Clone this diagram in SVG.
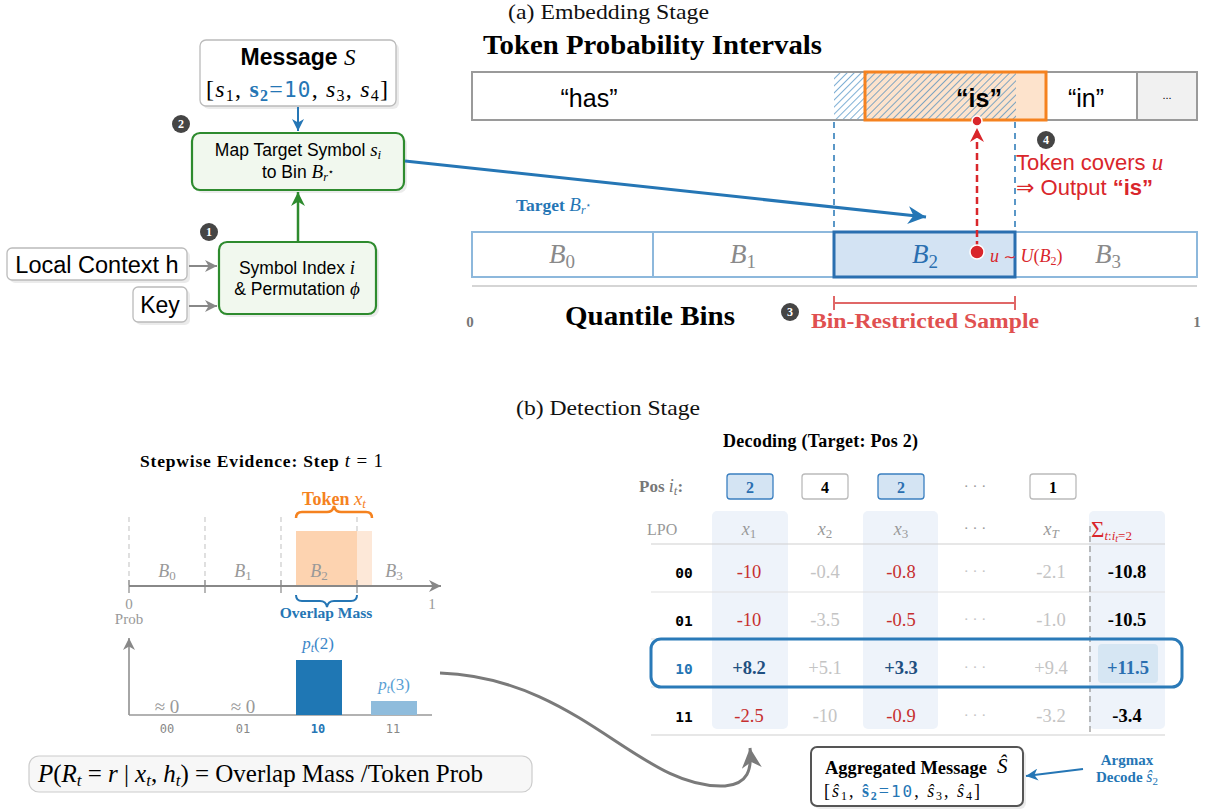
<svg xmlns="http://www.w3.org/2000/svg" width="1210" height="809" viewBox="0 0 1210 809">
<style>
.serif{font-family:"Liberation Serif","DejaVu Serif",serif}
.sans{font-family:"Liberation Sans","DejaVu Sans",sans-serif}
.mono{font-family:"DejaVu Sans Mono","Liberation Mono",monospace}
.star{font-family:"DejaVu Sans",sans-serif;font-style:normal;font-weight:normal}
.it{font-style:italic}
.b{font-weight:bold}
.badge{fill:#454545}
.badgetx{font-family:"Liberation Serif",serif;font-weight:bold;font-size:12px;fill:#fff;text-anchor:middle}
.shadow{fill:#000;opacity:0.08}
.gbox{fill:#f1f8ee;stroke:#2e8b2e;stroke-width:2.2}
.wbox{fill:#fff;stroke:#bbb;stroke-width:1.3}
.red{fill:#c62f2f}
.lg{fill:#c4c4c4}
.dk{fill:#1f4f80}
</style>
<defs>
<pattern id="hatch" width="5" height="5" patternUnits="userSpaceOnUse" patternTransform="rotate(45)">
<line x1="0" y1="0" x2="0" y2="5" stroke="#2a7ab8" stroke-width="1.2"/>
</pattern>
<marker id="ab" markerWidth="12" markerHeight="12" refX="10" refY="5" orient="auto" markerUnits="userSpaceOnUse" viewBox="0 0 10 10"><path d="M0,0 L10,5 L0,10 L3,5 z" fill="#2576b5"/></marker>
<marker id="abL" markerWidth="18" markerHeight="18" refX="10" refY="5" orient="auto" markerUnits="userSpaceOnUse" viewBox="0 0 10 10"><path d="M0,0 L10,5 L0,10 L3,5 z" fill="#2576b5"/></marker>
<marker id="ag" markerWidth="14" markerHeight="14" refX="10" refY="5" orient="auto" markerUnits="userSpaceOnUse" viewBox="0 0 10 10"><path d="M0,0 L10,5 L0,10 L3,5 z" fill="#2e8b2e"/></marker>
<marker id="agr" markerWidth="12" markerHeight="12" refX="10" refY="5" orient="auto" markerUnits="userSpaceOnUse" viewBox="0 0 10 10"><path d="M0,0 L10,5 L0,10 L3,5 z" fill="#888"/></marker>
<marker id="agr2" markerWidth="20" markerHeight="20" refX="10" refY="5" orient="auto" markerUnits="userSpaceOnUse" viewBox="0 0 10 10"><path d="M0,0 L10,5 L0,10 L3,5 z" fill="#7a7a7a"/></marker>
<marker id="ar" markerWidth="14" markerHeight="14" refX="10" refY="5" orient="auto" markerUnits="userSpaceOnUse" viewBox="0 0 10 10"><path d="M0,0 L10,5 L0,10 L3,5 z" fill="#d9262b"/></marker>
</defs>
<rect width="1210" height="809" fill="#fff"/>

<!-- (a) Embedding stage -->
<text class="serif" x="508" y="19" font-size="21" textLength="201" lengthAdjust="spacingAndGlyphs" fill="#111">(a) Embedding Stage</text>

<g id="message">
<rect class="shadow" x="203" y="43" width="196" height="66" rx="6"/>
<rect class="wbox" x="200" y="40" width="196" height="66" rx="6"/>
<text x="298" y="65" text-anchor="middle" font-size="23"><tspan class="sans b">Message </tspan><tspan class="serif it">S</tspan></text>
<text class="serif" x="206" y="97" font-size="24" textLength="182" lengthAdjust="spacing">[<tspan class="it">s</tspan><tspan font-size="16" dy="4">1</tspan><tspan dy="-4">, </tspan><tspan class="b" fill="#2576b5">s</tspan><tspan class="b" fill="#2576b5" font-size="16" dy="4">2</tspan><tspan fill="#2576b5" dy="-4">=</tspan><tspan class="mono" fill="#2576b5" font-size="21">10</tspan>, <tspan class="it">s</tspan><tspan font-size="16" dy="4">3</tspan><tspan dy="-4">, </tspan><tspan class="it">s</tspan><tspan font-size="16" dy="4">4</tspan><tspan dy="-4">]</tspan></text>
</g>

<g id="badge2"><circle class="badge" cx="181" cy="124" r="9"/><text class="badgetx" x="181" y="128">2</text></g>

<g id="mapbox">
<rect class="shadow" x="195" y="136" width="212" height="57" rx="8"/>
<rect class="gbox" x="192" y="133" width="212" height="57" rx="8"/>
<text class="sans" x="298" y="156" text-anchor="middle" font-size="17.5">Map Target Symbol <tspan class="serif it" font-size="19">s</tspan><tspan class="serif it" font-size="13" dy="3">i</tspan></text>
<text class="sans" x="298" y="178" text-anchor="middle" font-size="17.5">to Bin <tspan class="serif it" font-size="19">B</tspan><tspan class="serif it" font-size="12" dy="3">r</tspan><tspan class="star" font-size="10" dy="-6">⋆</tspan></text>
</g>

<g id="badge1"><circle class="badge" cx="209" cy="232" r="9"/><text class="badgetx" x="209" y="236">1</text></g>

<g id="symbolbox">
<rect class="shadow" x="222" y="245" width="157" height="72" rx="8"/>
<rect class="gbox" x="219" y="242" width="157" height="72" rx="8"/>
<text class="sans" x="297" y="274" text-anchor="middle" font-size="17.5">Symbol Index <tspan class="serif it" font-size="19">i</tspan></text>
<text class="sans" x="297" y="295" text-anchor="middle" font-size="17.5">&amp; Permutation <tspan class="serif it" font-size="19">ϕ</tspan></text>
</g>

<g id="context">
<rect class="shadow" x="10" y="251" width="180" height="32" rx="5"/>
<rect class="wbox" x="7" y="248" width="180" height="32" rx="5"/>
<text class="sans" x="97" y="273" text-anchor="middle" font-size="23.5">Local Context h</text>
</g>
<g id="key">
<rect class="shadow" x="136" y="290" width="54" height="35" rx="5"/>
<rect class="wbox" x="133" y="287" width="54" height="35" rx="5"/>
<text class="sans" x="160" y="313" text-anchor="middle" font-size="23">Key</text>
</g>

<g id="tokenbar">
<text class="serif b" x="483" y="54" font-size="27" textLength="339" lengthAdjust="spacingAndGlyphs">Token Probability Intervals</text>
<rect x="472" y="72" width="725" height="48" fill="#fff" stroke="#9a9a9a" stroke-width="2"/>
<rect x="1137" y="72" width="60" height="48" fill="#f1f1f1" stroke="#9a9a9a" stroke-width="2"/>
<rect x="865" y="72" width="181" height="48" fill="#fde3cc"/>
<rect x="834" y="73" width="182" height="46" fill="url(#hatch)"/>
<rect x="865" y="72" width="181" height="48" fill="none" stroke="#f5821f" stroke-width="3"/>
<text class="sans" x="589" y="107" text-anchor="middle" font-size="25">“has”</text>
<text class="sans b" x="979" y="107" text-anchor="middle" font-size="25">“is”</text>
<text class="sans" x="1086" y="107" text-anchor="middle" font-size="25">“in”</text>
<text class="sans" x="1167" y="99" text-anchor="middle" font-size="11">...</text>
</g>

<g id="bins">
<line x1="834" y1="122" x2="834" y2="232" stroke="#2576b5" stroke-width="1.5" stroke-dasharray="6,5"/>
<line x1="1015" y1="122" x2="1015" y2="232" stroke="#2576b5" stroke-width="1.5" stroke-dasharray="6,5"/>
<rect x="472" y="232" width="725" height="45" fill="#fff" stroke="#8db8dc" stroke-width="2"/>
<line x1="653" y1="232" x2="653" y2="277" stroke="#8db8dc" stroke-width="2"/>
<rect x="834" y="232" width="181" height="45" fill="#d3e3f3" stroke="#2a6fb0" stroke-width="3"/>
<text class="serif it" x="562" y="263" text-anchor="middle" font-size="27" fill="#8a8a8a">B<tspan font-style="normal" font-size="19" dy="5">0</tspan></text>
<text class="serif it" x="743" y="263" text-anchor="middle" font-size="27" fill="#8a8a8a">B<tspan font-style="normal" font-size="19" dy="5">1</tspan></text>
<text class="serif it" x="925" y="263" text-anchor="middle" font-size="27" fill="#2a6fb0">B<tspan font-style="normal" font-size="19" dy="5">2</tspan></text>
<text class="serif it" x="1108" y="263" text-anchor="middle" font-size="27" fill="#8a8a8a">B<tspan font-style="normal" font-size="19" dy="5">3</tspan></text>
<line x1="472" y1="286" x2="1197" y2="286" stroke="#d5d5d5" stroke-width="2"/>
<text class="serif b" x="470" y="327" text-anchor="middle" font-size="15" fill="#777">0</text>
<text class="serif b" x="1197" y="327" text-anchor="middle" font-size="15" fill="#777">1</text>
<text class="serif b" x="565" y="325" font-size="27" textLength="170" lengthAdjust="spacingAndGlyphs">Quantile Bins</text>
</g>

<g id="sample">
<line x1="834" y1="303" x2="1015" y2="303" stroke="#e06767" stroke-width="2"/>
<line x1="834" y1="296" x2="834" y2="310" stroke="#e06767" stroke-width="2"/>
<line x1="1015" y1="296" x2="1015" y2="310" stroke="#e06767" stroke-width="2"/>
<text class="serif b" x="811" y="328" font-size="22" textLength="228" lengthAdjust="spacingAndGlyphs" fill="#e05050">Bin-Restricted Sample</text>
<circle class="badge" cx="790" cy="312" r="9"/><text class="badgetx" x="790" y="316">3</text>
</g>

<g id="output">
<circle class="badge" cx="1046" cy="140" r="9"/><text class="badgetx" x="1046" y="144">4</text>
<text class="sans" x="1016" y="170" font-size="22" fill="#d9262b">Token covers <tspan class="serif it" font-size="23">u</tspan></text>
<text class="sans" x="1016" y="195" font-size="22" fill="#d9262b">⇒ Output <tspan class="b">“is”</tspan></text>
<text class="serif b" x="516" y="211" font-size="17.5" fill="#2576b5">Target <tspan class="it" font-weight="normal" font-size="19">B</tspan><tspan class="it" font-weight="normal" font-size="12" dy="3">r</tspan><tspan class="star" font-size="9" dy="-6">⋆</tspan></text>
</g>

<g id="connectors">
<line x1="298" y1="107" x2="298" y2="131" stroke="#2576b5" stroke-width="2" marker-end="url(#ab)"/>
<line x1="298" y1="241" x2="298" y2="192" stroke="#2e8b2e" stroke-width="2.5" marker-end="url(#ag)"/>
<line x1="189" y1="266" x2="217" y2="266" stroke="#888" stroke-width="2" marker-end="url(#agr)"/>
<line x1="189" y1="306" x2="217" y2="306" stroke="#888" stroke-width="2" marker-end="url(#agr)"/>
<line x1="405" y1="161" x2="926" y2="217" stroke="#2576b5" stroke-width="3" marker-end="url(#abL)"/>
<line x1="977" y1="248" x2="977" y2="128" stroke="#d9262b" stroke-width="2.5" stroke-dasharray="7,4" marker-end="url(#ar)"/>
<circle cx="977" cy="121" r="5" fill="#d9262b" stroke="#fff" stroke-width="1.5"/>
<circle cx="977" cy="252" r="7" fill="#d9262b" stroke="#fff" stroke-width="1.5"/>
<path d="M440,673 C580,678 640,790 725,786 C748,784 752,770 750,748" fill="none" stroke="#7a7a7a" stroke-width="3" marker-end="url(#agr2)"/>
<line x1="1083" y1="769" x2="1026" y2="776" stroke="#2576b5" stroke-width="2" marker-end="url(#ab)"/>
</g>
<text class="serif it" x="990" y="262" font-size="18" fill="#d9262b">u <tspan class="star" font-size="15">∼</tspan> U<tspan font-style="normal">(</tspan>B<tspan font-style="normal" font-size="12" dy="3">2</tspan><tspan font-style="normal" dy="-3">)</tspan></text>

<!-- (b) Detection stage -->
<text class="serif" x="516" y="415" font-size="22" textLength="184" lengthAdjust="spacingAndGlyphs" fill="#111">(b) Detection Stage</text>

<g id="stepwise">
<text class="serif b" x="140" y="467" font-size="17.5" textLength="243" lengthAdjust="spacing">Stepwise Evidence: Step <tspan class="it" font-weight="normal" font-size="19">t</tspan><tspan font-weight="normal" font-size="19"> = 1</tspan></text>
<g stroke="#cfcfcf" stroke-width="1.3" stroke-dasharray="5,4">
<line x1="129" y1="517" x2="129" y2="586"/><line x1="205" y1="517" x2="205" y2="586"/><line x1="281" y1="517" x2="281" y2="586"/><line x1="357" y1="517" x2="357" y2="586"/>
</g>
<rect x="296" y="531" width="61" height="55" fill="#fdd3b0"/>
<rect x="357" y="531" width="15" height="55" fill="#fde8d8"/>
<text class="serif it" x="167" y="577" text-anchor="middle" font-size="18" fill="#999">B<tspan font-style="normal" font-size="13" dy="3">0</tspan></text>
<text class="serif it" x="243" y="577" text-anchor="middle" font-size="18" fill="#999">B<tspan font-style="normal" font-size="13" dy="3">1</tspan></text>
<text class="serif it" x="319" y="577" text-anchor="middle" font-size="18" fill="#999">B<tspan font-style="normal" font-size="13" dy="3">2</tspan></text>
<text class="serif it" x="394" y="577" text-anchor="middle" font-size="18" fill="#999">B<tspan font-style="normal" font-size="13" dy="3">3</tspan></text>
<line x1="129" y1="586" x2="441" y2="586" stroke="#888" stroke-width="2" marker-end="url(#agr)"/>
<g stroke="#888" stroke-width="1.2"><line x1="129" y1="580" x2="129" y2="593"/><line x1="205" y1="580" x2="205" y2="593"/><line x1="281" y1="580" x2="281" y2="593"/><line x1="357" y1="580" x2="357" y2="593"/></g>
<path d="M296,518 Q296,512 302,512 L327,512 Q333,512 334,506 Q335,512 341,512 L366,512 Q372,512 372,518" fill="none" stroke="#f5821f" stroke-width="2.5"/>
<text class="serif b" x="334" y="505" text-anchor="middle" font-size="18" fill="#f5821f">Token <tspan class="it" font-weight="normal" font-size="19">x</tspan><tspan class="it" font-weight="normal" font-size="13" dy="3">t</tspan></text>
<path d="M296,595 Q296,601 302,601 L320,601 Q326,601 327,607 Q328,601 334,601 L351,601 Q357,601 357,595" fill="none" stroke="#2576b5" stroke-width="2"/>
<text class="serif b" x="326" y="618" text-anchor="middle" font-size="15.5" fill="#2576b5">Overlap Mass</text>
<text class="serif" x="129" y="609" text-anchor="middle" font-size="15" fill="#999">0</text>
<text class="serif" x="129" y="624" text-anchor="middle" font-size="15" fill="#999">Prob</text>
<text class="serif" x="432" y="609" text-anchor="middle" font-size="15" fill="#999">1</text>
</g>

<g id="barchart">
<line x1="129" y1="715" x2="129" y2="638" stroke="#888" stroke-width="1.5" marker-end="url(#agr)"/>
<line x1="129" y1="715" x2="432" y2="715" stroke="#999" stroke-width="1.5"/>
<rect x="296" y="660" width="46" height="55" fill="#1f77b4"/>
<rect x="371" y="701" width="46" height="14" fill="#8fbcdc"/>
<text class="serif" x="167" y="713" text-anchor="middle" font-size="19" fill="#999">≈ 0</text>
<text class="serif" x="243" y="713" text-anchor="middle" font-size="19" fill="#999">≈ 0</text>
<text class="serif" x="318" y="649" text-anchor="middle" font-size="17" fill="#3a86c8"><tspan class="it">p</tspan><tspan class="it" font-size="12" dy="3">t</tspan><tspan dy="-3">(2)</tspan></text>
<text class="serif" x="394" y="690" text-anchor="middle" font-size="17" fill="#5a9fd4"><tspan class="it">p</tspan><tspan class="it" font-size="12" dy="3">t</tspan><tspan dy="-3">(3)</tspan></text>
<text class="mono" x="167" y="733" text-anchor="middle" font-size="12" fill="#888">00</text>
<text class="mono" x="243" y="733" text-anchor="middle" font-size="12" fill="#888">01</text>
<text class="mono b" x="318" y="733" text-anchor="middle" font-size="12" fill="#2576b5">10</text>
<text class="mono" x="393" y="733" text-anchor="middle" font-size="12" fill="#888">11</text>
</g>

<g id="formula">
<rect x="29" y="756" width="503" height="36" rx="10" fill="#f7f7f7" stroke="#cccccc" stroke-width="1.2"/>
<text class="serif" x="38" y="782" font-size="25" textLength="445" lengthAdjust="spacing"><tspan class="it">P</tspan>(<tspan class="it">R</tspan><tspan class="it" font-size="17" dy="4">t</tspan><tspan dy="-4"> = </tspan><tspan class="it">r</tspan> | <tspan class="it">x</tspan><tspan class="it" font-size="17" dy="4">t</tspan><tspan dy="-4">, </tspan><tspan class="it">h</tspan><tspan class="it" font-size="17" dy="4">t</tspan><tspan dy="-4">) = Overlap Mass /Token Prob</tspan></text>
</g>

<g id="decoding">
<text class="serif b" x="723" y="447" font-size="18" textLength="195" lengthAdjust="spacing">Decoding (Target: Pos 2)</text>
<text class="serif b" x="639" y="492" font-size="17" fill="#777">Pos <tspan class="it" font-weight="normal" font-size="18">i</tspan><tspan class="it" font-weight="normal" font-size="13" dy="3">t</tspan><tspan dy="-3">:</tspan></text>
<rect x="727" y="474" width="46" height="25" rx="3" fill="#d4e4f3" stroke="#3a7fc0" stroke-width="1.3"/>
<rect x="802" y="474" width="46" height="25" rx="3" fill="#fff" stroke="#bbb" stroke-width="1.3"/>
<rect x="878" y="474" width="46" height="25" rx="3" fill="#d4e4f3" stroke="#3a7fc0" stroke-width="1.3"/>
<rect x="1030" y="474" width="46" height="25" rx="3" fill="#fff" stroke="#bbb" stroke-width="1.3"/>
<text class="serif b" x="750" y="493" text-anchor="middle" font-size="16" fill="#2a6fb0">2</text>
<text class="serif b" x="825" y="493" text-anchor="middle" font-size="16">4</text>
<text class="serif b" x="901" y="493" text-anchor="middle" font-size="16" fill="#2a6fb0">2</text>
<text class="serif" x="975" y="491" text-anchor="middle" font-size="15" fill="#999">· · ·</text>
<text class="serif b" x="1053" y="493" text-anchor="middle" font-size="16">1</text>

<rect x="712" y="511" width="76" height="218" rx="5" fill="#eef3fa"/>
<rect x="863" y="511" width="75" height="218" rx="5" fill="#eef3fa"/>
<rect x="1089" y="511" width="76" height="218" rx="5" fill="#eef3fa"/>
<line x1="651" y1="544" x2="1165" y2="544" stroke="#d0d0d0" stroke-width="1.2"/>
<line x1="651" y1="592" x2="1165" y2="592" stroke="#e0e0e0" stroke-width="1.2"/>
<line x1="651" y1="639" x2="1165" y2="639" stroke="#e0e0e0" stroke-width="1.2"/>
<line x1="651" y1="687" x2="1165" y2="687" stroke="#e0e0e0" stroke-width="1.2"/>
<line x1="651" y1="735" x2="1165" y2="735" stroke="#d0d0d0" stroke-width="1.2"/>
<line x1="1090" y1="526" x2="1090" y2="733" stroke="#999" stroke-width="1.3" stroke-dasharray="6,4"/>

<text class="serif" x="647" y="535" font-size="16" fill="#999">LPO</text>
<text class="serif it" x="749" y="535" text-anchor="middle" font-size="18" fill="#999">x<tspan font-style="normal" font-size="13" dy="3">1</tspan></text>
<text class="serif it" x="825" y="535" text-anchor="middle" font-size="18" fill="#999">x<tspan font-style="normal" font-size="13" dy="3">2</tspan></text>
<text class="serif it" x="901" y="535" text-anchor="middle" font-size="18" fill="#999">x<tspan font-style="normal" font-size="13" dy="3">3</tspan></text>
<text class="serif" x="975" y="533" text-anchor="middle" font-size="15" fill="#999">· · ·</text>
<text class="serif it" x="1051" y="535" text-anchor="middle" font-size="18" fill="#999">x<tspan font-size="13" dy="3">T</tspan></text>
<text class="serif" x="1091" y="537" font-size="23" fill="#d9262b">Σ<tspan class="it" font-size="13" dy="3">t</tspan><tspan font-size="13">:</tspan><tspan class="it" font-size="13">i</tspan><tspan class="it" font-size="10" dy="2">t</tspan><tspan font-size="13" dy="-2">=2</tspan></text>

<g font-size="18.5" text-anchor="middle" class="serif">
<text class="mono b" x="684" y="578" font-size="14.5">00</text>
<text class="red" x="749" y="578">-10</text><text class="lg" x="825" y="578">-0.4</text><text class="red" x="901" y="578">-0.8</text><text class="lg" x="975" y="576" font-size="15">· · ·</text><text class="lg" x="1051" y="578">-2.1</text><text class="b" x="1127" y="578">-10.8</text>
<text class="mono b" x="684" y="626" font-size="14.5">01</text>
<text class="red" x="749" y="626">-10</text><text class="lg" x="825" y="626">-3.5</text><text class="red" x="901" y="626">-0.5</text><text class="lg" x="975" y="624" font-size="15">· · ·</text><text class="lg" x="1051" y="626">-1.0</text><text class="b" x="1127" y="626">-10.5</text>
<rect x="1098" y="644" width="60" height="39" rx="4" fill="#d6e6f3"/>
<text class="mono b" x="684" y="674" font-size="14.5" fill="#2576b5">10</text>
<text class="b dk" x="749" y="674">+8.2</text><text class="lg" x="825" y="674">+5.1</text><text class="b dk" x="901" y="674">+3.3</text><text class="lg" x="975" y="672" font-size="15">· · ·</text><text class="lg" x="1051" y="674">+9.4</text><text class="b" x="1128" y="674" fill="#2a6fb0">+11.5</text>
<text class="mono b" x="684" y="722" font-size="14.5">11</text>
<text class="red" x="749" y="722">-2.5</text><text class="lg" x="825" y="722">-10</text><text class="red" x="901" y="722">-0.9</text><text class="lg" x="975" y="720" font-size="15">· · ·</text><text class="lg" x="1051" y="722">-3.2</text><text class="b" x="1127" y="722">-3.4</text>
</g>
<rect x="651" y="639" width="531" height="48" rx="10" fill="none" stroke="#2a7ab8" stroke-width="3"/>
</g>

<g id="aggregated">
<rect class="shadow" x="814" y="750" width="212" height="59" rx="6"/>
<rect x="811" y="747" width="212" height="59" rx="6" fill="#fff" stroke="#555" stroke-width="2"/>
<text class="serif b" x="825" y="774" font-size="19" textLength="162" lengthAdjust="spacingAndGlyphs">Aggregated Message</text>
<text class="serif it" x="997" y="773" font-size="21">Ŝ</text>
<text class="serif" x="824" y="797" font-size="18" textLength="156" lengthAdjust="spacing">[<tspan class="it">ŝ</tspan><tspan font-size="12" dy="3">1</tspan><tspan dy="-3">, </tspan><tspan class="b" fill="#2576b5">ŝ</tspan><tspan class="b" fill="#2576b5" font-size="12" dy="3">2</tspan><tspan fill="#2576b5" dy="-3">=</tspan><tspan class="mono" fill="#2576b5" font-size="16">10</tspan>, <tspan class="it">ŝ</tspan><tspan font-size="12" dy="3">3</tspan><tspan dy="-3">, </tspan><tspan class="it">ŝ</tspan><tspan font-size="12" dy="3">4</tspan><tspan dy="-3">]</tspan></text>
</g>
<g id="argmax">
<text class="serif b" x="1127" y="765" text-anchor="middle" font-size="15" fill="#2576b5">Argmax</text>
<text class="serif b" x="1127" y="782" text-anchor="middle" font-size="15" fill="#2576b5">Decode <tspan class="it" font-weight="normal" font-size="16">ŝ</tspan><tspan font-weight="normal" font-size="11" dy="3">2</tspan></text>
</g>
</svg>
